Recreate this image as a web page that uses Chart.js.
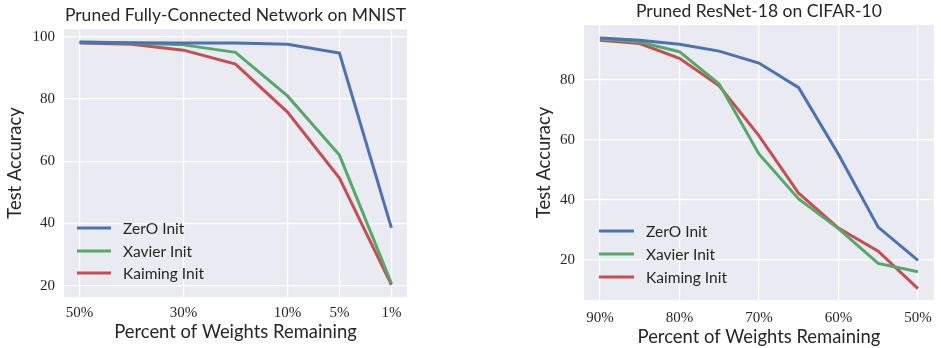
<!DOCTYPE html>
<html>
<head>
<meta charset="utf-8">
<script src="https://cdn.jsdelivr.net/npm/chart.js@4/dist/chart.umd.min.js"></script>
<style>
  html, body { margin: 0; padding: 0; background: #ffffff; }
  body { width: 941px; height: 348px; position: relative; overflow: hidden; }
  .box { position: absolute; top: 0; height: 348px; }
  #box1 { left: 0; width: 420px; }
  #box2 { left: 520px; width: 421px; }
</style>
</head>
<body>
<div class="box" id="box1"><canvas id="c1"></canvas></div>
<div class="box" id="box2"><canvas id="c2"></canvas></div>
<script>
// ---- Data ----
const seriesNames = ['ZerO Init', 'Xavier Init', 'Kaiming Init'];
const seriesColors = ['#4C72B0', '#55A868', '#C44E52'];

// Left: Pruned Fully-Connected Network on MNIST
const mnistCategories = ['50%', '40%', '30%', '20%', '10%', '5%', '1%'];
const mnistTickLabels = ['50%', '30%', '10%', '5%', '1%'];
const mnistZerO    = [98.2, 98.1, 98.0, 98.0, 97.6, 94.8, 38.6];
const mnistXavier  = [98.4, 98.0, 97.4, 95.0, 81.0, 62.0, 20.8];
const mnistKaiming = [98.0, 97.6, 95.7, 91.2, 75.8, 54.6, 20.3];
const mnistYTicks  = [20, 40, 60, 80, 100];

// Right: Pruned ResNet-18 on CIFAR-10
const cifarCategories = ['90%', '85%', '80%', '75%', '70%', '65%', '60%', '55%', '50%'];
const cifarTickLabels = ['90%', '80%', '70%', '60%', '50%'];
const cifarZerO    = [94.0, 93.2, 91.9, 89.6, 85.6, 77.4, 55.2, 30.9, 19.8];
const cifarXavier  = [93.6, 92.6, 89.4, 78.6, 55.3, 40.3, 30.4, 18.8, 16.0];
const cifarKaiming = [93.2, 92.1, 87.2, 78.0, 61.4, 42.2, 30.6, 22.9, 10.4];
const cifarYTicks  = [20, 40, 60, 80];

const SANS = 'Lato, "Open Sans", sans-serif';
const SERIF = '"Liberation Serif", "DejaVu Serif", serif';

const bgPlugin = {
  id: 'plotBg',
  beforeDraw(chart) {
    const {ctx, chartArea: a} = chart;
    ctx.save();
    ctx.fillStyle = '#EAEAF2';
    ctx.fillRect(a.left, a.top, a.right - a.left, a.bottom - a.top);
    ctx.restore();
  }
};

const legendPlugin = {
  id: 'innerLegend',
  afterDatasetsDraw(chart, args, opts) {
    const {ctx, chartArea: a} = chart;
    ctx.save();
    ctx.font = '15.5px ' + SANS;
    ctx.textBaseline = 'middle';
    ctx.textAlign = 'left';
    chart.data.datasets.forEach((ds, i) => {
      const y = a.bottom - opts.rows[i];
      const x0 = a.left + opts.x;
      ctx.strokeStyle = ds.borderColor;
      ctx.lineWidth = 3;
      ctx.lineCap = 'butt';
      ctx.beginPath();
      ctx.moveTo(x0, y);
      ctx.lineTo(x0 + opts.len, y);
      ctx.stroke();
      ctx.fillStyle = '#262626';
      ctx.fillText(ds.label, x0 + opts.len + 12, y + 1);
    });
    ctx.restore();
  }
};

function makeChart(id, cfg) {
  const cats = cfg.categories;
  const tickIdx = cats.map((c, i) => cfg.tickLabels.includes(c) ? i : -1).filter(i => i >= 0);
  const n = cats.length - 1;
  const margin = n * 0.05;
  const datasets = cfg.series.map((vals, k) => ({
    label: seriesNames[k],
    data: vals.map((v, i) => ({x: i, y: v})),
    borderColor: seriesColors[k],
    backgroundColor: seriesColors[k],
    borderWidth: 3,
    pointRadius: 0,
    tension: 0,
    fill: false
  }));
  return new Chart(document.getElementById(id), {
    type: 'line',
    data: {datasets},
    plugins: [bgPlugin, legendPlugin],
    options: {
      responsive: true,
      maintainAspectRatio: false,
      animation: false,
      layout: {padding: {left: 0, right: cfg.padRight, top: 0, bottom: 0}},
      plugins: {
        legend: {display: false},
        tooltip: {enabled: false},
        title: {
          display: true,
          fullSize: false,
          text: cfg.title,
          color: '#262626',
          font: {family: SANS, size: 17.5, weight: 'normal', lineHeight: 1.2},
          padding: cfg.titlePad
        },
        innerLegend: cfg.legend
      },
      scales: {
        x: {
          type: 'linear',
          min: -margin,
          max: n + margin,
          afterBuildTicks(scale) { scale.ticks = tickIdx.map(v => ({value: v})); },
          afterFit(scale) { scale.height = cfg.xAxisHeight; },
          ticks: {
            autoSkip: false, maxRotation: 0,
            padding: cfg.xTickPad,
            color: '#262626',
            font: {family: SERIF, size: 15},
            callback: (v) => cats[v]
          },
          grid: {color: '#ffffff', lineWidth: 1.2, drawTicks: false},
          border: {display: false},
          title: {
            display: true,
            text: 'Percent of Weights Remaining',
            color: '#262626',
            font: {family: SANS, size: 18.4, lineHeight: 1.2},
            padding: {top: 0, bottom: cfg.xTitlePad}
          }
        },
        y: {
          type: 'linear',
          min: cfg.yMin,
          max: cfg.yMax,
          afterBuildTicks(scale) { scale.ticks = cfg.yTicks.map(v => ({value: v})); },
          afterFit(scale) { scale.width = 64; },
          ticks: {
            padding: 9,
            color: '#262626',
            font: {family: SERIF, size: 15},
            callback: (v) => String(v)
          },
          grid: {color: '#ffffff', lineWidth: 1.2, drawTicks: false},
          border: {display: false},
          title: {
            display: true,
            text: 'Test Accuracy',
            color: '#262626',
            font: {family: SANS, size: 18.4, lineHeight: 1.2},
            padding: {top: cfg.yTitlePad, bottom: 0}
          }
        }
      }
    }
  });
}

makeChart('c1', {
  title: 'Pruned Fully-Connected Network on MNIST',
  categories: mnistCategories,
  tickLabels: mnistTickLabels,
  series: [mnistZerO, mnistXavier, mnistKaiming],
  yTicks: mnistYTicks,
  yMin: 16.4, yMax: 102.5,
  padRight: 13,
  titlePad: {top: 5, bottom: 3},
  xAxisHeight: 51,
  xTickPad: 7,
  xTitlePad: 5,
  yTitlePad: 4,
  legend: {x: 13, len: 34, rows: [69, 46, 24]}
});

makeChart('c2', {
  title: 'Pruned ResNet-18 on CIFAR-10',
  categories: cifarCategories,
  tickLabels: cifarTickLabels,
  series: [cifarZerO, cifarXavier, cifarKaiming],
  yTicks: cifarYTicks,
  yMin: 6.6, yMax: 98.3,
  padRight: 2,
  titlePad: {top: 1, bottom: 3},
  xAxisHeight: 48,
  xTickPad: 9,
  xTitlePad: 0,
  yTitlePad: 13,
  legend: {x: 15, len: 35, rows: [69, 46, 23]}
});
</script>
</body>
</html>
